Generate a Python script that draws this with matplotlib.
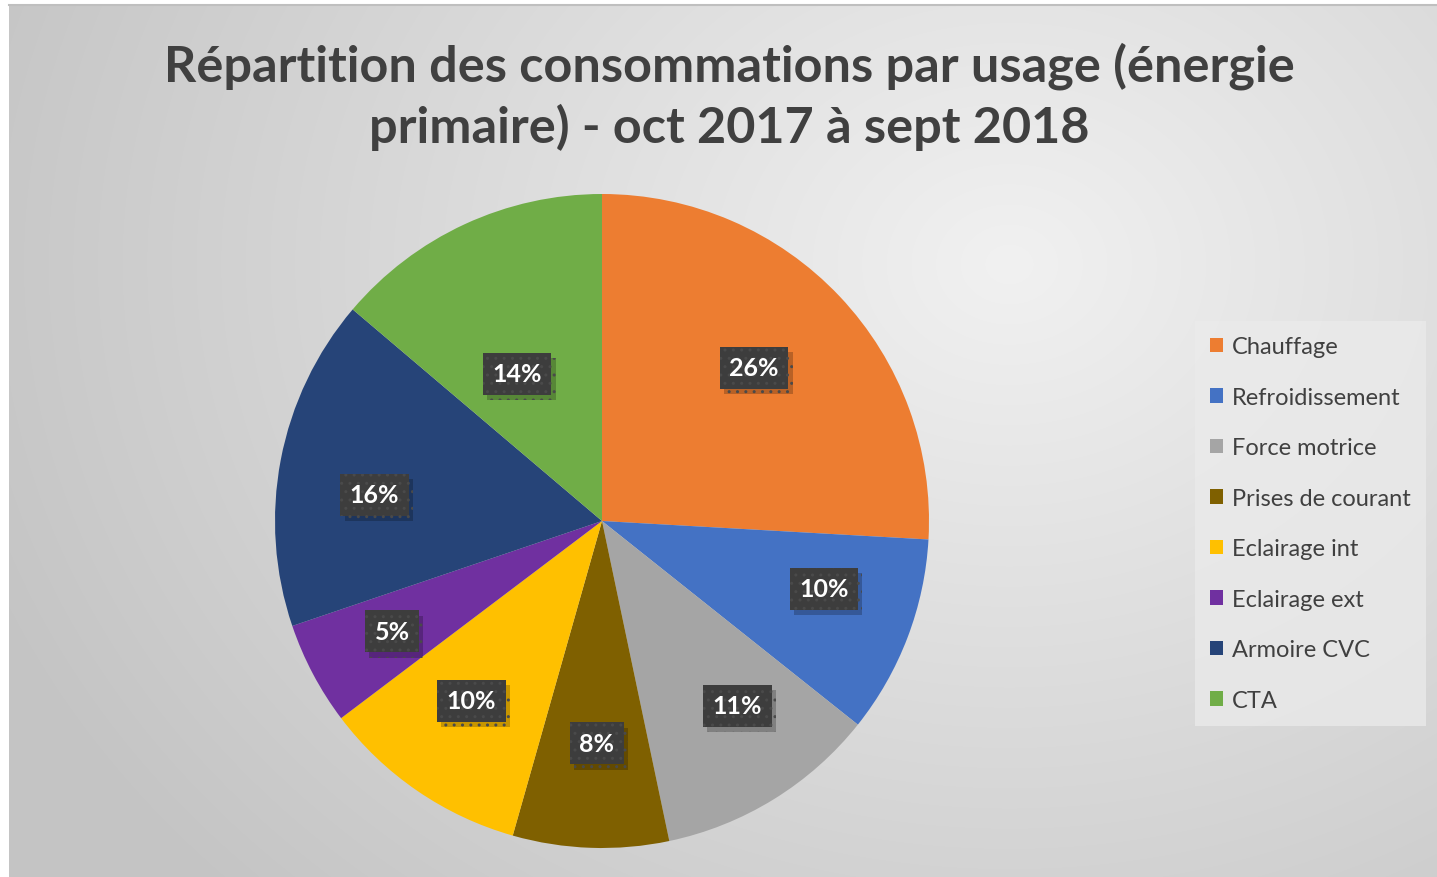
import numpy as np
import matplotlib
matplotlib.use('Agg')
from matplotlib import pyplot as plt
from matplotlib import patheffects as pe
from matplotlib.patches import Patch

plt.rcParams['font.family'] = ['Lato', 'DejaVu Sans']

# données
usages = ['Chauffage', 'Refroidissement', 'Force motrice', 'Prises de courant',
          'Eclairage int', 'Eclairage ext', 'Armoire CVC', 'CTA']
parts = [25.9, 9.8, 11.0, 7.7, 10.3, 5.1, 16.4, 13.8]
couleurs = ['#ED7D31', '#4472C4', '#A5A5A5', '#7F6000',
            '#FFC000', '#7030A0', '#264478', '#70AD47']
# placement des étiquettes (distance au centre, décalage angulaire en degrés)
label_dist = [0.66, 0.71, 0.70, 0.68, 0.68, 0.725, 0.70, 0.52]
label_shift = [1.8, 3.9, 4.6, 0.6, -1.6, -0.2, 4.2, 5.1]
titre = 'Répartition des consommations par usage (énergie\nprimaire) - oct 2017 à sept 2018'

W, H = 1437, 878
fig = plt.figure(figsize=(W / 100, H / 100), dpi=100)
fig.patch.set_facecolor('white')

# fond en dégradé radial
bg = fig.add_axes([9 / W, 0, 1 - 9 / W, 1 - 5 / H])
yy, xx = np.mgrid[0:H - 5, 0:W - 9]
d = np.sqrt(((xx - 1000) / 1100.0) ** 2 + ((yy - 260) / 900.0) ** 2)
d = np.clip(d, 0, 1)
g = 0.945 - 0.175 * d
bg.imshow(np.dstack([g, g, g]), aspect='auto', extent=[0, 1, 0, 1])
bg.set_axis_off()
fig.add_artist(plt.Line2D([9 / W, 1], [1 - 5.5 / H, 1 - 5.5 / H], color='#bfbfbf', lw=1.5))

# camembert
cx, cy, r = 602, 522, 327
ax = fig.add_axes([(cx - r) / W, (H - cy - r) / H, 2 * r / W, 2 * r / H])
wedges, _ = ax.pie(parts, colors=couleurs, startangle=90, counterclock=False,
                   radius=1, wedgeprops=dict(linewidth=0))
ax.set_xlim(-1, 1)
ax.set_ylim(-1, 1)
ax.set_aspect('equal')
ax.set_axis_off()

for w, v, dist, shift in zip(wedges, parts, label_dist, label_shift):
    ang = np.deg2rad((w.theta1 + w.theta2) / 2 + shift)
    x, y = dist * np.cos(ang), dist * np.sin(ang)
    t = ax.text(x, y, '%d%%' % round(v), ha='center', va='center', fontsize=18,
                fontweight='bold', color='white',
                bbox=dict(boxstyle='square,pad=0.38', facecolor='#3d3d3d', edgecolor='#4a4a4a',
                          hatch='..', linewidth=0))
    t.get_bbox_patch().set_path_effects([
        pe.SimplePatchShadow(offset=(3, -4), shadow_rgbFace='black', alpha=0.22), pe.Normal()])

# titre
fig.text(729 / W, 1 - 97 / H, titre, ha='center', va='center', fontsize=36.3,
         fontweight='bold', color='#404040', linespacing=1.36)

# légende
handles = [Patch(facecolor=c, edgecolor='none') for c in couleurs]
leg = fig.legend(handles, usages, loc='upper left', bbox_to_anchor=(1195 / W, 1 - 322 / H),
                 frameon=True, fontsize=17, labelspacing=1.25, handlelength=0.55,
                 handleheight=0.55, handletextpad=0.35, borderpad=0.65, fancybox=False,
                 borderaxespad=0)
leg.get_frame().set_facecolor('#ebebeb')
leg.get_frame().set_alpha(0.75)
leg.get_frame().set_linewidth(0)
for t in leg.get_texts():
    t.set_color('#404040')

fig.savefig('out.png', dpi=100)
